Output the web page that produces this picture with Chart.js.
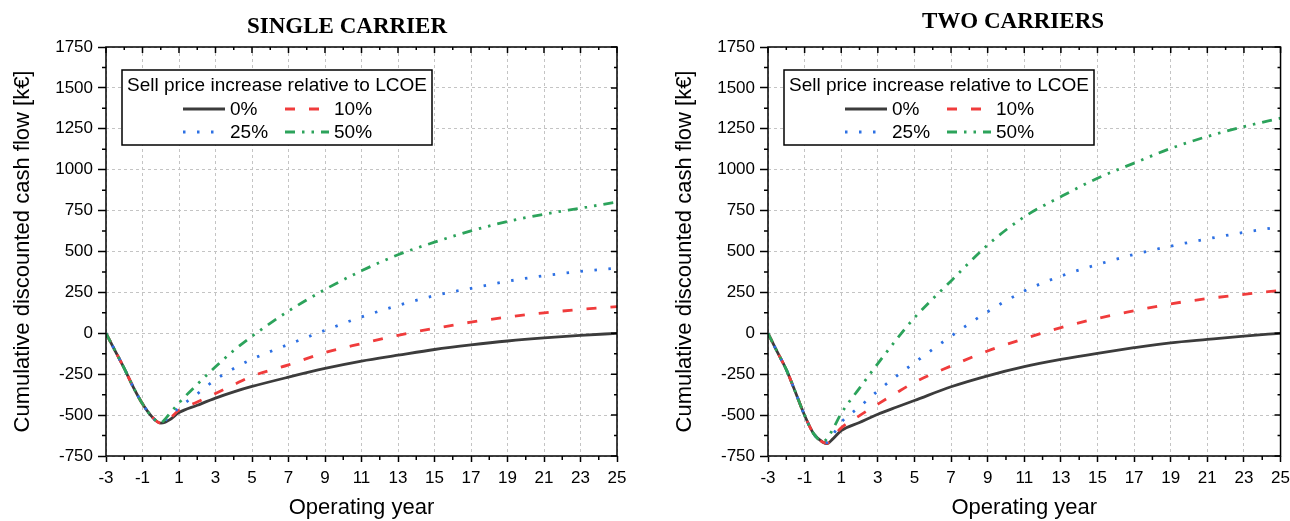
<!DOCTYPE html>
<html>
<head>
<meta charset="utf-8">
<script src="https://cdn.jsdelivr.net/npm/chart.js@4"></script>
<style>
  body { margin: 0; background: #fff; overflow: hidden; }
  .box { position: absolute; top: 0; height: 521px; }
</style>
</head>
<body>
<div class="box" style="left:0;width:645px"><canvas id="single" width="645" height="521"></canvas></div>
<div class="box" style="left:662px;width:634px"><canvas id="two" width="634" height="521"></canvas></div>
<script>
// operating years and cumulative discounted cash flow [k€]
const years = [-3, -2.5, -2, -1.5, -1, -0.5, 0, 0.25, 0.5, 1, 2, 3, 4, 5, 7, 9, 11, 13, 15, 17, 19, 21, 23, 25];

const single0  = [0, -107, -215, -330, -431, -508, -549, -543, -528, -485, -440, -396, -358, -325, -268, -215, -170, -134, -99, -71, -47, -28, -13, 0];
const single10 = [0, -107, -215, -330, -431, -508, -549, -539, -520, -470, -420, -368, -314, -262, -193, -118, -63, -12, 30, 68, 99, 125, 146, 163];
const single25 = [0, -107, -215, -330, -431, -508, -549, -532, -508, -455, -370, -283, -215, -158, -68, 18, 100, 170, 230, 275, 318, 352, 378, 398];
const single50 = [0, -107, -215, -330, -431, -508, -547, -523, -490, -425, -312, -205, -105, -18, 136, 268, 382, 480, 557, 626, 683, 728, 765, 802];

const two0  = [0, -112, -222, -360, -502, -615, -666, -674, -650, -595, -545, -495, -452, -411, -327, -260, -204, -160, -122, -88, -58, -37, -17, 0];
const two10 = [0, -112, -222, -360, -502, -615, -666, -672, -640, -578, -503, -433, -365, -300, -200, -108, -33, 35, 91, 137, 180, 212, 238, 262];
const two25 = [0, -112, -222, -360, -502, -615, -666, -668, -628, -545, -450, -352, -263, -180, -18, 132, 258, 350, 420, 482, 533, 577, 617, 652];
const two50 = [0, -112, -222, -360, -502, -615, -662, -640, -595, -490, -335, -185, -40, 95, 320, 540, 712, 835, 948, 1040, 1130, 1203, 1263, 1315];

const seriesLabels = ['0%', '10%', '25%', '50%'];
const xTicks = [-3, -1, 1, 3, 5, 7, 9, 11, 13, 15, 17, 19, 21, 23, 25];
const yTicks = [-750, -500, -250, 0, 250, 500, 750, 1000, 1250, 1500, 1750];

const styles = [
  { color: '#3c3c3c', dash: [] },
  { color: '#f03c3c', dash: [10, 14] },
  { color: '#2d70e3', dash: [2.5, 11.5] },
  { color: '#2ca35b', dash: [10, 7, 2.5, 7, 2.5, 7] }
];

const SANS = '"Liberation Sans", Arial, sans-serif';

// frame, minor + mirrored ticks, legend box and title
const frame = {
  id: 'frame',
  afterDraw(chart, args, opts) {
    const { ctx, chartArea: a, scales: { x, y } } = chart;
    ctx.save();
    ctx.strokeStyle = '#000';
    ctx.lineWidth = 1.5;
    ctx.setLineDash([]);
    ctx.beginPath();
    for (let v = xTicks[0]; v <= xTicks[xTicks.length - 1]; v++) {
      const px = x.getPixelForValue(v);
      const major = xTicks.includes(v);
      if (!major) { ctx.moveTo(px, a.bottom); ctx.lineTo(px, a.bottom + 4); }
      ctx.moveTo(px, a.top); ctx.lineTo(px, a.top + (major ? 6 : 3));
    }
    for (let v = yTicks[0]; v <= yTicks[yTicks.length - 1]; v += 125) {
      const py = y.getPixelForValue(v);
      const major = yTicks.includes(v);
      if (!major) { ctx.moveTo(a.left, py); ctx.lineTo(a.left - 4, py); }
      ctx.moveTo(a.right, py); ctx.lineTo(a.right - (major ? 6 : 3), py);
    }
    ctx.stroke();
    ctx.strokeRect(a.left, a.top, a.right - a.left, a.bottom - a.top);

    // legend
    const bx = a.left + 16, by = a.top + 23, bw = 310, bh = 75;
    ctx.fillStyle = '#fff';
    ctx.fillRect(bx, by, bw, bh);
    ctx.lineWidth = 1.5;
    ctx.strokeRect(bx, by, bw, bh);
    ctx.fillStyle = '#000';
    ctx.font = '19px ' + SANS;
    ctx.textBaseline = 'middle';
    ctx.textAlign = 'center';
    ctx.fillText('Sell price increase relative to LCOE', bx + bw / 2, by + 16);
    ctx.textAlign = 'left';
    chart.data.datasets.forEach((ds, i) => {
      const col = i % 2, row = Math.floor(i / 2);
      const ly = by + 39 + row * 23;
      const x0 = bx + (col ? 163 : 61), x1 = bx + (col ? 207 : 103);
      ctx.strokeStyle = ds.borderColor;
      ctx.lineWidth = ds.borderWidth;
      ctx.setLineDash(ds.borderDash);
      ctx.beginPath(); ctx.moveTo(x0, ly); ctx.lineTo(x1, ly); ctx.stroke();
      ctx.setLineDash([]);
      ctx.fillText(ds.label, bx + (col ? 212 : 108), ly + 1);
    });

    // title
    ctx.font = 'bold 23px "Liberation Serif", "Times New Roman", serif';
    ctx.textAlign = 'center';
    ctx.fillText(opts.text, opts.tx, opts.ty);
    ctx.restore();
  }
};

function makeChart(id, values, title, tx, ty, padRight) {
  const datasets = values.map((vals, i) => ({
    label: seriesLabels[i],
    data: years.map((yr, k) => ({ x: yr, y: vals[k] })),
    borderColor: styles[i].color,
    borderDash: styles[i].dash,
    borderWidth: 2.8,
    pointRadius: 0,
    fill: false,
    cubicInterpolationMode: 'monotone',
    order: 4 - i
  }));
  return new Chart(document.getElementById(id), {
    type: 'line',
    data: { datasets: datasets },
    options: {
      responsive: false,
      animation: false,
      devicePixelRatio: 1,
      layout: { padding: { left: 10, right: padRight, top: 47, bottom: 0 } },
      plugins: {
        legend: { display: false },
        tooltip: { enabled: false },
        frame: { text: title, tx: tx, ty: ty }
      },
      scales: {
        x: {
          type: 'linear',
          min: -3, max: 25,
          afterBuildTicks: s => { s.ticks = xTicks.map(v => ({ value: v })); },
          afterFit: s => { s.height = 65; },
          grid: { color: '#c4c4c4', lineWidth: 1, tickLength: 6, tickColor: '#000', tickWidth: 1.5 },
          border: { display: false, dash: [3, 3] },
          ticks: { color: '#000', font: { family: SANS, size: 17 }, padding: 6, maxRotation: 0, autoSkip: false, callback: v => String(v) },
          title: { display: true, text: 'Operating year', color: '#000', font: { family: SANS, size: 22 }, padding: 0 }
        },
        y: {
          min: -750, max: 1750,
          afterBuildTicks: s => { s.ticks = yTicks.map(v => ({ value: v })); },
          afterFit: s => { s.width = 96; },
          grid: { color: '#c4c4c4', lineWidth: 1, tickLength: 8, tickColor: '#000', tickWidth: 1.5 },
          border: { display: false, dash: [3, 3] },
          ticks: { color: '#000', font: { family: SANS, size: 17 }, padding: 5, autoSkip: false, callback: v => String(v) },
          title: { display: true, text: 'Cumulative discounted cash flow [k€]', color: '#000', font: { family: SANS, size: 22 }, padding: 0 }
        }
      }
    },
    plugins: [frame]
  });
}

makeChart('single', [single0, single10, single25, single50], 'SINGLE CARRIER', 347, 27, 28);
makeChart('two', [two0, two10, two25, two50], 'TWO CARRIERS', 351, 22, 11);
</script>
</body>
</html>
